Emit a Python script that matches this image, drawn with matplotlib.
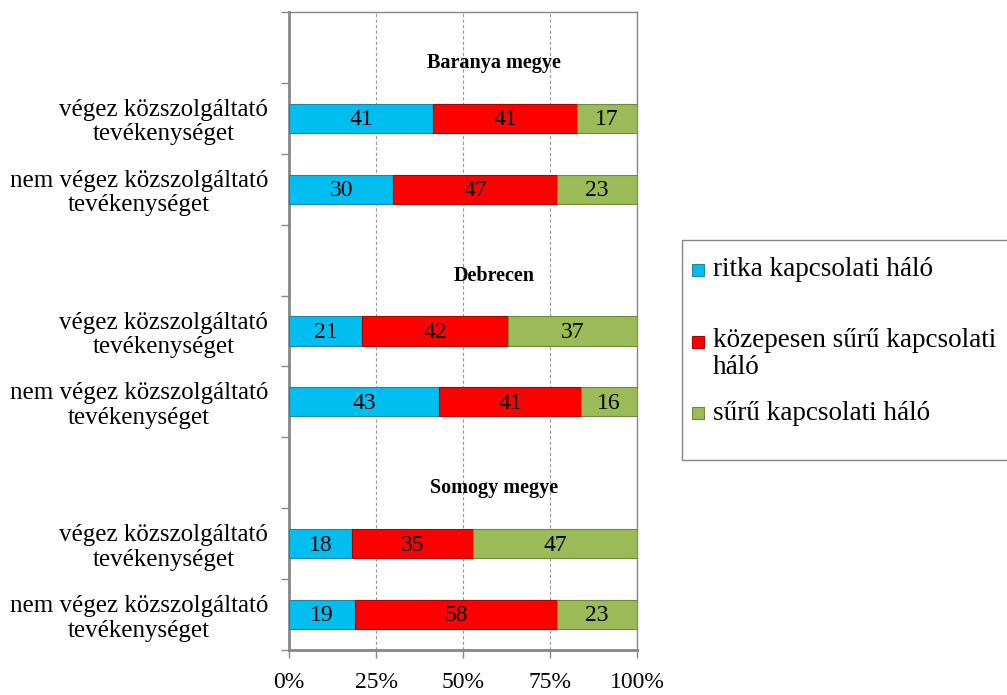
import numpy as np
import matplotlib
matplotlib.use('Agg')
import matplotlib.pyplot as plt
from matplotlib.patches import Rectangle

plt.rcParams['font.family'] = ['Liberation Serif', 'DejaVu Serif']

# data, top to bottom
groups = ['Baranya megye', 'Debrecen', 'Somogy megye']
row_labels = ['végez közszolgáltató\ntevékenységet',
              'nem végez közszolgáltató\ntevékenységet']
series = ['ritka kapcsolati háló', 'közepesen sűrű kapcsolati\nháló', 'sűrű kapcsolati háló']
ritka = [41, 30, 21, 43, 18, 19]
kozepes = [41, 47, 42, 41, 35, 58]
suru = [17, 23, 37, 16, 47, 23]
colors = ['#00BFF0', '#FF0000', '#9BBB59']
edges = ['#1F86A6', '#B00000', '#6E8A3A']

vals = np.array([ritka, kozepes, suru], dtype=float)
pct = vals / vals.sum(axis=0) * 100

# slot positions: group title slot followed by two rows
ypos = []
labels = []
for g in range(len(groups)):
    ypos += [g * 3 + 1, g * 3 + 2]
    labels += row_labels
ypos = np.array(ypos)

fig = plt.figure(figsize=(10.07, 6.95), dpi=100)
ax = fig.add_axes([289 / 1007, 1 - 650 / 695, 348 / 1007, 638 / 695])

left = np.zeros(len(ypos))
for i in range(3):
    ax.barh(ypos, pct[i], left=left, height=0.41, color=colors[i],
            edgecolor=edges[i], linewidth=0.8, zorder=3)
    for y, l, w, v in zip(ypos, left, pct[i], vals[i]):
        ax.text(l + w / 2, y + 0.02, '%d' % v, ha='center', va='center',
                fontsize=17, zorder=4)
    left += pct[i]

for g, name in enumerate(groups):
    ax.text(59, g * 3 + 0.22, name, ha='center', va='center',
            fontsize=14.5, fontweight='bold')

ax.set_xlim(0, 100)
ax.set_ylim(8.5, -0.5)
ax.set_xticks([0, 25, 50, 75, 100])
ax.set_xticklabels(['0%', '25%', '50%', '75%', '100%'], fontsize=17)
ax.set_yticks(ypos)
ax.set_yticklabels(labels, fontsize=18, multialignment='center', linespacing=1.15)
ax.set_yticks(np.arange(-0.5, 9, 1), minor=True)
ax.tick_params(axis='y', which='major', length=0, pad=15)
ax.tick_params(axis='y', which='minor', length=6, color='#868686', width=1)
ax.tick_params(axis='x', length=6, color='#868686', width=1, pad=10)

for x in [25, 50, 75]:
    ax.axvline(x, color='#9a9a9a', linewidth=0.8, linestyle=(0, (3, 2)), zorder=1)

for s in ['left', 'bottom']:
    ax.spines[s].set_color('#868686')
    ax.spines[s].set_linewidth(2)
for s in ['top', 'right']:
    ax.spines[s].set_color('#868686')
    ax.spines[s].set_linewidth(1)

# legend box
fig.patches.append(Rectangle((682 / 1007, 1 - 460 / 695), 340 / 1007, 220 / 695,
                             transform=fig.transFigure, facecolor='white',
                             edgecolor='#868686', linewidth=1))
leg_y = [270, 354, 413]
for i, y in enumerate(leg_y):
    my = y if i != 1 else 342
    fig.patches.append(Rectangle((692 / 1007, 1 - (my + 6) / 695), 12 / 1007, 12 / 695,
                                 transform=fig.transFigure, facecolor=colors[i],
                                 edgecolor=edges[i], linewidth=0.8))
    fig.text(713 / 1007, 1 - y / 695, series[i], ha='left', va='center',
             fontsize=19.5, linespacing=1.1)

fig.savefig('out.png', dpi=100)
